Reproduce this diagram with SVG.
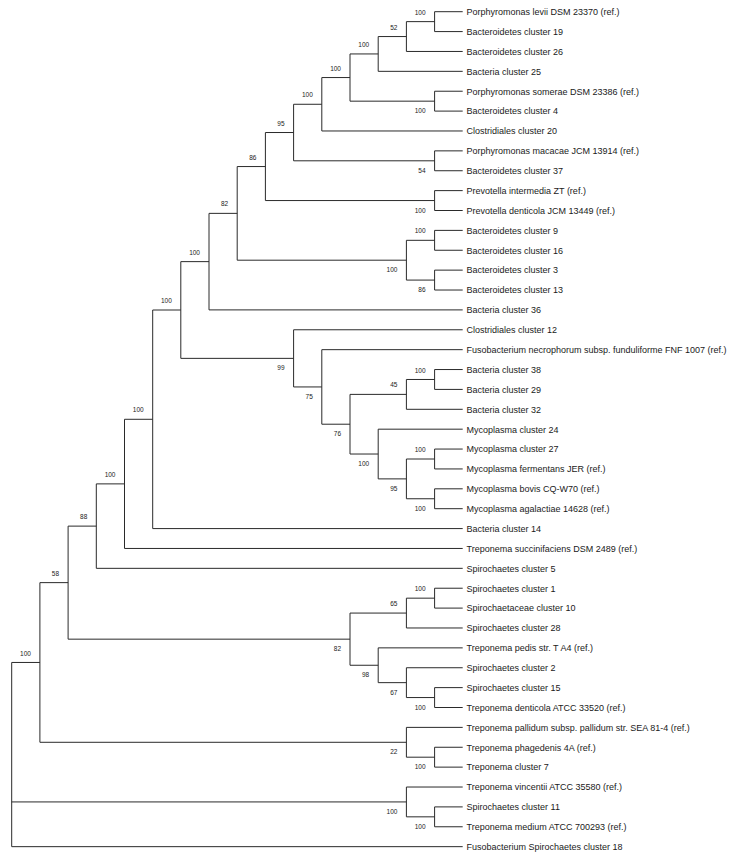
<svg xmlns="http://www.w3.org/2000/svg" width="732" height="857" viewBox="0 0 732 857">
<style>
.leaf{font-family:"Liberation Sans",Arial,sans-serif;font-size:9px;fill:#1a1a1a}
.bs{font-family:"Liberation Sans",Arial,sans-serif;font-size:6.5px;fill:#1a1a1a;text-anchor:end}
.br{fill:none;stroke:#2a2a2a;stroke-width:1}
</style>
<rect width="732" height="857" fill="#fff"/>
<g id="connectors" class="br">
<path d="M434.6 11.7V31.58M434.6 11.7H462.7M434.6 31.58H462.7"/>
<path d="M406.4 21.64V51.46M406.4 21.64H434.6M406.4 51.46H462.7"/>
<path d="M378.2 36.55V71.34M378.2 36.55H406.4M378.2 71.34H462.7"/>
<path d="M434.6 91.22V111.1M434.6 91.22H462.7M434.6 111.1H462.7"/>
<path d="M350 53.95V101.16M350 53.95H378.2M350 101.16H434.6"/>
<path d="M321.8 77.55V130.98M321.8 77.55H350M321.8 130.98H462.7"/>
<path d="M434.6 150.86V170.74M434.6 150.86H462.7M434.6 170.74H462.7"/>
<path d="M293.6 104.27V160.8M293.6 104.27H321.8M293.6 160.8H434.6"/>
<path d="M434.6 190.62V210.5M434.6 190.62H462.7M434.6 210.5H462.7"/>
<path d="M265.4 132.53V200.56M265.4 132.53H293.6M265.4 200.56H434.6"/>
<path d="M434.6 230.38V250.26M434.6 230.38H462.7M434.6 250.26H462.7"/>
<path d="M434.6 270.14V290.02M434.6 270.14H462.7M434.6 290.02H462.7"/>
<path d="M406.4 240.32V280.08M406.4 240.32H434.6M406.4 280.08H434.6"/>
<path d="M237.2 166.55V260.2M237.2 166.55H265.4M237.2 260.2H406.4"/>
<path d="M209 213.37V309.9M209 213.37H237.2M209 309.9H462.7"/>
<path d="M180.8 261.64V358.36M180.8 261.64H209M180.8 358.36H293.6"/>
<path d="M293.6 329.78V386.94M293.6 329.78H462.7M293.6 386.94H321.8"/>
<path d="M321.8 349.66V424.21M321.8 349.66H462.7M321.8 424.21H350"/>
<path d="M350 394.39V454.03M350 394.39H406.4M350 454.03H378.2"/>
<path d="M406.4 379.48V409.3M406.4 379.48H434.6M406.4 409.3H462.7"/>
<path d="M434.6 369.54V389.42M434.6 369.54H462.7M434.6 389.42H462.7"/>
<path d="M378.2 429.18V478.88M378.2 429.18H462.7M378.2 478.88H406.4"/>
<path d="M406.4 459V498.76M406.4 459H434.6M406.4 498.76H434.6"/>
<path d="M434.6 449.06V468.94M434.6 449.06H462.7M434.6 468.94H462.7"/>
<path d="M434.6 488.82V508.7M434.6 488.82H462.7M434.6 508.7H462.7"/>
<path d="M152.7 310V528.58M152.7 310H180.8M152.7 528.58H462.7"/>
<path d="M124.5 419.29V548.46M124.5 419.29H152.7M124.5 548.46H462.7"/>
<path d="M96.3 483.88V568.34M96.3 483.88H124.5M96.3 568.34H462.7"/>
<path d="M68.1 526.11V639.16M68.1 526.11H96.3M68.1 639.16H350"/>
<path d="M434.6 588.22V608.1M434.6 588.22H462.7M434.6 608.1H462.7"/>
<path d="M406.4 598.16V627.98M406.4 598.16H434.6M406.4 627.98H462.7"/>
<path d="M350 613.07V665.26M350 613.07H406.4M350 665.26H378.2"/>
<path d="M378.2 647.86V682.65M378.2 647.86H462.7M378.2 682.65H406.4"/>
<path d="M406.4 667.74V697.56M406.4 667.74H462.7M406.4 697.56H434.6"/>
<path d="M434.6 687.62V707.5M434.6 687.62H462.7M434.6 707.5H462.7"/>
<path d="M39.9 582.64V742.29M39.9 582.64H68.1M39.9 742.29H406.4"/>
<path d="M406.4 727.38V757.2M406.4 727.38H462.7M406.4 757.2H434.6"/>
<path d="M434.6 747.26V767.14M434.6 747.26H462.7M434.6 767.14H462.7"/>
<path d="M406.4 787.02V816.84M406.4 787.02H462.7M406.4 816.84H434.6"/>
<path d="M434.6 806.9V826.78M434.6 806.9H462.7M434.6 826.78H462.7"/>
<path d="M11.7 662.46V846.66M11.7 662.46H39.9M11.7 801.93H406.4M11.7 846.66H462.7"/>
</g>
<g id="leaves" class="leaf">
<g id="leaf1"><text x="466.5" y="15">Porphyromonas levii DSM 23370 (ref.)</text></g>
<g id="leaf2"><text x="466.5" y="34.9">Bacteroidetes cluster 19</text></g>
<g id="leaf3"><text x="466.5" y="54.8">Bacteroidetes cluster 26</text></g>
<g id="leaf4"><text x="466.5" y="74.6">Bacteria cluster 25</text></g>
<g id="leaf5"><text x="466.5" y="94.5">Porphyromonas somerae DSM 23386 (ref.)</text></g>
<g id="leaf6"><text x="466.5" y="114.4">Bacteroidetes cluster 4</text></g>
<g id="leaf7"><text x="466.5" y="134.3">Clostridiales cluster 20</text></g>
<g id="leaf8"><text x="466.5" y="154.2">Porphyromonas macacae JCM 13914 (ref.)</text></g>
<g id="leaf9"><text x="466.5" y="174">Bacteroidetes cluster 37</text></g>
<g id="leaf10"><text x="466.5" y="193.9">Prevotella intermedia ZT (ref.)</text></g>
<g id="leaf11"><text x="466.5" y="213.8">Prevotella denticola JCM 13449 (ref.)</text></g>
<g id="leaf12"><text x="466.5" y="233.7">Bacteroidetes cluster 9</text></g>
<g id="leaf13"><text x="466.5" y="253.6">Bacteroidetes cluster 16</text></g>
<g id="leaf14"><text x="466.5" y="273.4">Bacteroidetes cluster 3</text></g>
<g id="leaf15"><text x="466.5" y="293.3">Bacteroidetes cluster 13</text></g>
<g id="leaf16"><text x="466.5" y="313.2">Bacteria cluster 36</text></g>
<g id="leaf17"><text x="466.5" y="333.1">Clostridiales cluster 12</text></g>
<g id="leaf18"><text x="466.5" y="353">Fusobacterium necrophorum subsp. funduliforme FNF 1007 (ref.)</text></g>
<g id="leaf19"><text x="466.5" y="372.8">Bacteria cluster 38</text></g>
<g id="leaf20"><text x="466.5" y="392.7">Bacteria cluster 29</text></g>
<g id="leaf21"><text x="466.5" y="412.6">Bacteria cluster 32</text></g>
<g id="leaf22"><text x="466.5" y="432.5">Mycoplasma cluster 24</text></g>
<g id="leaf23"><text x="466.5" y="452.4">Mycoplasma cluster 27</text></g>
<g id="leaf24"><text x="466.5" y="472.2">Mycoplasma fermentans JER (ref.)</text></g>
<g id="leaf25"><text x="466.5" y="492.1">Mycoplasma bovis CQ-W70 (ref.)</text></g>
<g id="leaf26"><text x="466.5" y="512">Mycoplasma agalactiae 14628 (ref.)</text></g>
<g id="leaf27"><text x="466.5" y="531.9">Bacteria cluster 14</text></g>
<g id="leaf28"><text x="466.5" y="551.8">Treponema succinifaciens DSM 2489 (ref.)</text></g>
<g id="leaf29"><text x="466.5" y="571.6">Spirochaetes cluster 5</text></g>
<g id="leaf30"><text x="466.5" y="591.5">Spirochaetes cluster 1</text></g>
<g id="leaf31"><text x="466.5" y="611.4">Spirochaetaceae cluster 10</text></g>
<g id="leaf32"><text x="466.5" y="631.3">Spirochaetes cluster 28</text></g>
<g id="leaf33"><text x="466.5" y="651.2">Treponema pedis str. T A4 (ref.)</text></g>
<g id="leaf34"><text x="466.5" y="671">Spirochaetes cluster 2</text></g>
<g id="leaf35"><text x="466.5" y="690.9">Spirochaetes cluster 15</text></g>
<g id="leaf36"><text x="466.5" y="710.8">Treponema denticola ATCC 33520 (ref.)</text></g>
<g id="leaf37"><text x="466.5" y="730.7">Treponema pallidum subsp. pallidum str. SEA 81-4 (ref.)</text></g>
<g id="leaf38"><text x="466.5" y="750.6">Treponema phagedenis 4A (ref.)</text></g>
<g id="leaf39"><text x="466.5" y="770.4">Treponema cluster 7</text></g>
<g id="leaf40"><text x="466.5" y="790.3">Treponema vincentii ATCC 35580 (ref.)</text></g>
<g id="leaf41"><text x="466.5" y="810.2">Spirochaetes cluster 11</text></g>
<g id="leaf42"><text x="466.5" y="830.1">Treponema medium ATCC 700293 (ref.)</text></g>
<g id="leaf43"><text x="466.5" y="850">Fusobacterium Spirochaetes cluster 18</text></g>
</g>
<g id="support" class="bs">
<g id="n1"><text x="425.6" y="14.6">100</text></g>
<g id="n2"><text x="397.4" y="29.5">52</text></g>
<g id="n3"><text x="369.2" y="47">100</text></g>
<g id="n4"><text x="425.6" y="113.2">100</text></g>
<g id="n5"><text x="341" y="70.5">100</text></g>
<g id="n6"><text x="312.8" y="97.3">100</text></g>
<g id="n7"><text x="425.6" y="172.8">54</text></g>
<g id="n8"><text x="284.6" y="125.5">95</text></g>
<g id="n9"><text x="425.6" y="212.6">100</text></g>
<g id="n10"><text x="256.4" y="159.5">86</text></g>
<g id="n11"><text x="425.6" y="233.3">100</text></g>
<g id="n12"><text x="425.6" y="292.1">86</text></g>
<g id="n13"><text x="397.4" y="272.2">100</text></g>
<g id="n14"><text x="228.2" y="206.4">82</text></g>
<g id="n15"><text x="200" y="254.6">100</text></g>
<g id="n16"><text x="171.8" y="303">100</text></g>
<g id="n99"><text x="284.6" y="370.4">99</text></g>
<g id="n75"><text x="312.8" y="398.9">75</text></g>
<g id="n76"><text x="341" y="436.2">76</text></g>
<g id="n45"><text x="397.4" y="387.4">45</text></g>
<g id="nc38"><text x="425.6" y="372.5">100</text></g>
<g id="nmyc"><text x="369.2" y="466">100</text></g>
<g id="n95b"><text x="397.4" y="490.9">95</text></g>
<g id="nc27"><text x="425.6" y="452">100</text></g>
<g id="nbov"><text x="425.6" y="510.8">100</text></g>
<g id="n17"><text x="143.7" y="412.3">100</text></g>
<g id="n18"><text x="115.5" y="476.9">100</text></g>
<g id="n19"><text x="87.3" y="519.1">88</text></g>
<g id="n20"><text x="59.1" y="575.6">58</text></g>
<g id="n21"><text x="30.9" y="655.5">100</text></g>
<g id="ns1"><text x="425.6" y="591.2">100</text></g>
<g id="n65"><text x="397.4" y="606.1">65</text></g>
<g id="n82"><text x="341" y="651.2">82</text></g>
<g id="n98"><text x="369.2" y="677.3">98</text></g>
<g id="n67"><text x="397.4" y="694.7">67</text></g>
<g id="n15d"><text x="425.6" y="709.6">100</text></g>
<g id="n22"><text x="397.4" y="754.3">22</text></g>
<g id="nphag"><text x="425.6" y="769.2">100</text></g>
<g id="nvin"><text x="397.4" y="813.9">100</text></g>
<g id="n11m"><text x="425.6" y="828.8">100</text></g>
</g>
</svg>
